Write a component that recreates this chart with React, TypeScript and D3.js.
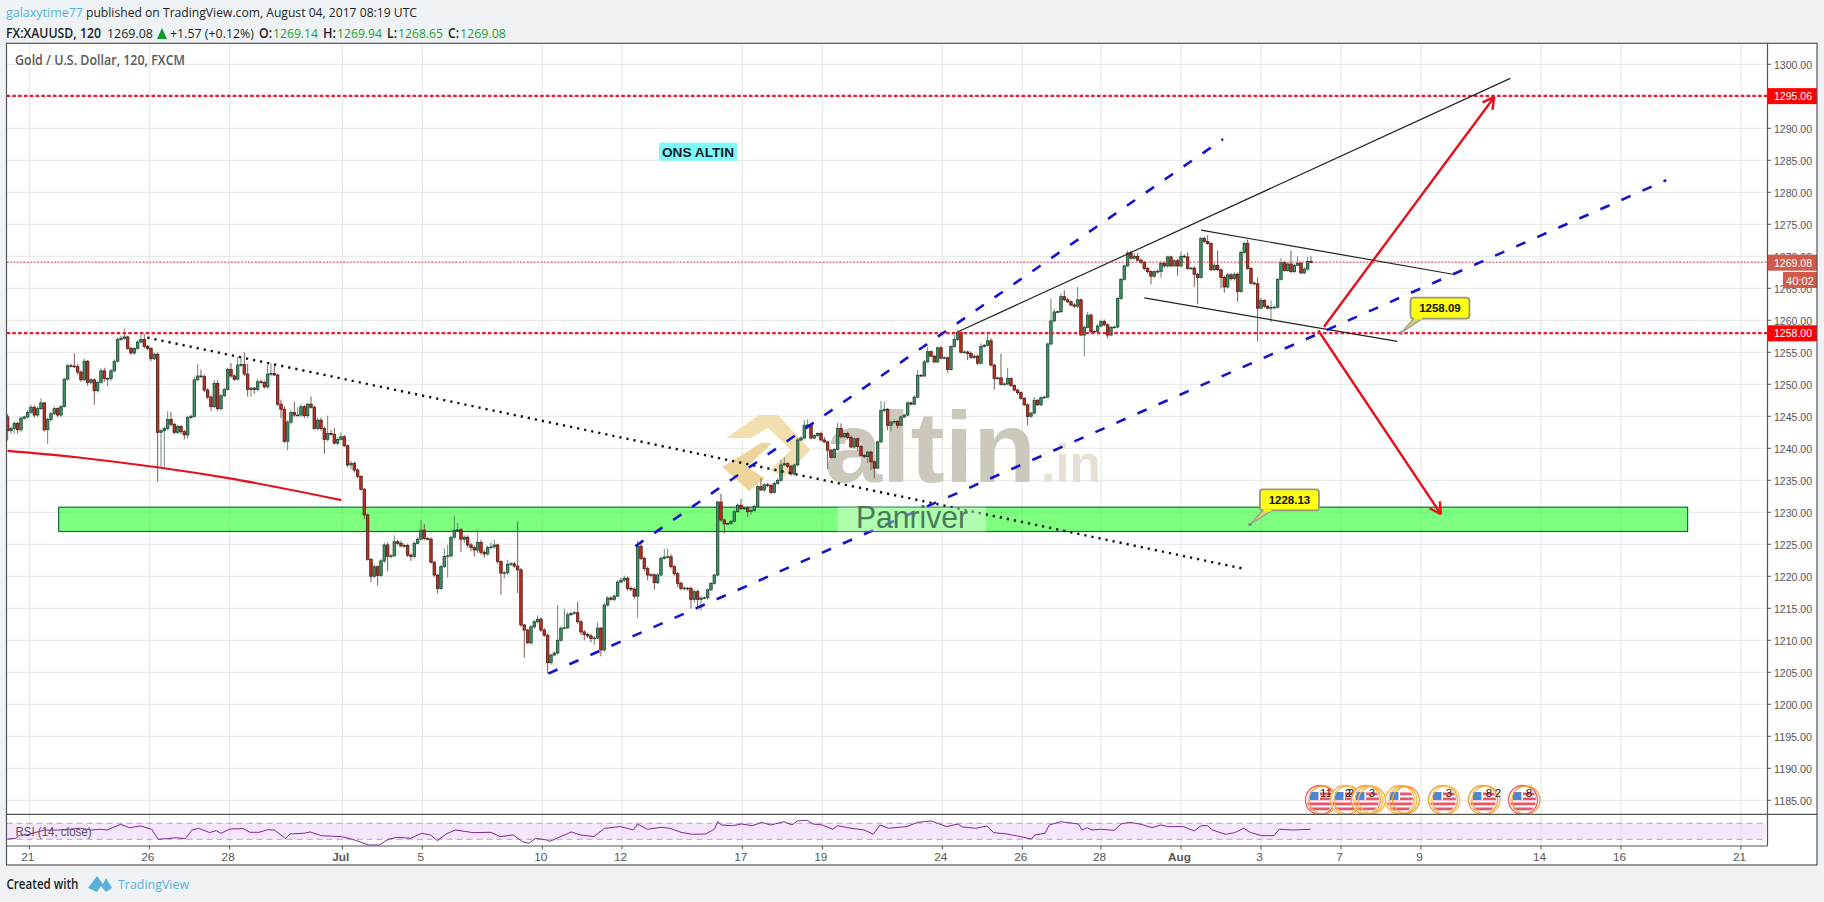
import * as d3 from "d3";

// 2h XAUUSD bars, one row per 10 bars (opens are the previous close)
const closes = [
  1242.75, 1243.1, 1243.9, 1242.9, 1244.7, 1244.9, 1245.6, 1246.4, 1245.2, 1246.2,
  1247.1, 1242.9, 1244.5, 1245.4, 1246.2, 1245.2, 1246.5, 1250.8, 1252.9, 1252.85,
  1252.75, 1251.9, 1250.7, 1253.6, 1250.3, 1250.7, 1249, 1250.3, 1252.1, 1250.9,
  1250.9, 1252.1, 1253.6, 1257, 1257.2, 1257.4, 1255.6, 1254.9, 1255.6, 1256.6,
  1257, 1255.9, 1255.6, 1254, 1254.7, 1242.5, 1242.75, 1243.1, 1244.5, 1243.75,
  1242.5, 1243.4, 1242.6, 1242.1, 1244.8, 1245, 1250.7, 1251.3, 1251.2, 1249.1,
  1248, 1246.5, 1250.15, 1246.2, 1248.2, 1249.2, 1252.3, 1251.3, 1250.8, 1253,
  1253.1, 1251.6, 1249.2, 1249.4, 1249.2, 1250.4, 1250.3, 1249.6, 1251.6, 1251.7,
  1251.45, 1246.9, 1246.1, 1241.1, 1244.1, 1245.6, 1245.2, 1245.2, 1246.5, 1245.1,
  1246.9, 1246.4, 1243.1, 1244.4, 1243.1, 1241.4, 1242.3, 1242.2, 1240.8, 1241.4,
  1241.8, 1240.4, 1237.4, 1237.65, 1236.6, 1235.6, 1233.6, 1229.6, 1222.65, 1220,
  1221.5, 1220.15, 1222.4, 1224.9, 1223.1, 1223.2, 1225.4, 1225.15, 1224.75, 1224.8,
  1223.3, 1223.1, 1225.15, 1225.8, 1227.2, 1225.9, 1225.8, 1222.2, 1220.2, 1218.1,
  1221.5, 1223.1, 1223.2, 1226.1, 1227.2, 1227.25, 1225.8, 1226.1, 1224.9, 1224.5,
  1224.1, 1225.3, 1223.75, 1223.5, 1224.5, 1224.6, 1224.9, 1222.3, 1220.5, 1220.55,
  1221.9, 1221.95, 1221.6, 1221, 1212.4, 1211.6, 1209.6, 1212.1, 1212.9, 1213.3,
  1211.6, 1210.8, 1206.5, 1207.7, 1208, 1210, 1211.9, 1211.95, 1214, 1214.2,
  1214.3, 1212.9, 1211.3, 1210.9, 1210.7, 1210.3, 1210.35, 1211.9, 1208.5, 1215.5,
  1216.6, 1216.4, 1216.9, 1219.1, 1219.4, 1219.7, 1218.1, 1218, 1216.9, 1224.7,
  1222.8, 1221.2, 1220.2, 1220.25, 1219, 1220.2, 1222.8, 1223, 1223.05, 1221.5,
  1220.4, 1218.9, 1218.1, 1218.15, 1218.1, 1216.4, 1217.6, 1216.4, 1216.6, 1216.65,
  1217.9, 1218.9, 1220.2, 1231.6, 1228.8, 1228.2, 1228.25, 1228.6, 1230.1, 1231.1,
  1230.6, 1230.65, 1230.1, 1230.3, 1230.9, 1234, 1233.5, 1234.3, 1234.2, 1233.1,
  1234.5, 1235, 1237.4, 1237.6, 1237.2, 1236, 1237.4, 1241.3, 1241.6, 1243.6,
  1243.65, 1241.6, 1242, 1242.3, 1241.3, 1241, 1239.7, 1238.6, 1239.8, 1243.1,
  1241.8, 1242.3, 1241.7, 1240.2, 1241.5, 1240.3, 1238.9, 1238.7, 1239.4, 1237.9,
  1236.9, 1241, 1245.9, 1246.1, 1243.6, 1244.1, 1244.2, 1243.6, 1244.9, 1245.2,
  1247.1, 1246.9, 1248, 1251.4, 1251.3, 1253.5, 1255.1, 1254.4, 1253.5, 1255.7,
  1254.1, 1254.15, 1252.3, 1255.9, 1257, 1258.1, 1255, 1255.05, 1254.8, 1254.2,
  1254.4, 1253.3, 1255.9, 1256.1, 1256.8, 1253, 1250.9, 1251, 1250, 1250.05,
  1250.9, 1249.8, 1249.1, 1248.7, 1247.8, 1246.8, 1245, 1245.5, 1247.5, 1246.8,
  1247.9, 1248, 1256.3, 1259.9, 1261.3, 1261.35, 1263.7, 1263.2, 1262.9, 1262.4,
  1262.2, 1263.2, 1257.7, 1258.9, 1260.8, 1258.2, 1258.25, 1259.1, 1259.8, 1259.3,
  1257.7, 1258.9, 1258.95, 1263.4, 1266.4, 1268.5, 1270.5, 1269.7, 1270, 1269.4,
  1269.06, 1268.1, 1267.6, 1266.9, 1267.6, 1267.65, 1268.9, 1268.5, 1269.9, 1268.5,
  1269.3, 1268.5, 1270, 1269.9, 1268.1, 1268.15, 1267.2, 1266.7, 1272.8, 1272.3,
  1272, 1267.9, 1268.6, 1267.9, 1266.7, 1265.2, 1267.1, 1266.5, 1267.2, 1264.5,
  1270.6, 1272, 1268.1, 1265.8, 1265.7, 1261.9, 1263.1, 1262.2, 1261.9, 1262,
  1262.05, 1266.4, 1269, 1267.8, 1268.8, 1267.6, 1268.6, 1268.9, 1267.4, 1268,
  1269.2, 1269.08,
];

// wick lengths above / below the body, in dollars
const upperWicks = [
  0.5, 0.3, 0.3, 0.2, 0.3, 0.2, 0.4, 0.4, 0.3, 0.4, 0.7, 0.1, 0.3, 0.3, 0.3, 0.2, 0.3, 0.2, 0.3, 0.3,
  2, 0.4, 0.3, 0.4, 0.2, 0.3, 0.2, 0.3, 0.4, 0.5, 0.2, 0.3, 0.3, 0.3, 0.4, 1.3, 0.2, 0.3, 0.2, 0.3,
  0.8, 0.8, 0.3, 0.2, 0.3, 0.3, 0.2, 0.3, 1.3, 1.2, 0.2, 0.3, 0.2, 0.3, 0.3, 0.3, 0.5, 1.9, 1, 0.3,
  0.3, 0.3, 0.5, 0.5, 0.3, 0.3, 0.3, 1, 0.3, 1.3, 1.2, 1.9, 1.6, 0.2, 0.2, 0.4, 0.3, 0.3, 1.4, 1.6,
  1.4, 0.2, 0.7, 0.5, 0.3, 0.4, 1.7, 1.2, 0.4, 0.3, 0.2, 1.2, 0.3, 0.4, 0.4, 0.3, 2.8, 0.6, 1, 0.3,
  0.7, 0.3, 0.2, 0.4, 0.3, 0.3, 0.2, 0.2, 0.2, 0.2, 0.3, 0.2, 0.3, 0.3, 0.4, 0.3, 1, 0.3, 0.4, 0.3,
  0.3, 0.3, 0.3, 0.3, 1.6, 1, 0.2, 0.3, 0.2, 0.2, 0.3, 1.3, 1.7, 0.3, 2.3, 1.1, 0.3, 0.3, 0.3, 0.3,
  0.3, 2, 0.4, 0.4, 0.3, 0.7, 0.8, 0.2, 0.2, 0.3, 0.7, 0.3, 0.3, 7, 0.3, 0.2, 0.2, 0.3, 0.3, 0.6,
  0.3, 0.3, 0.2, 0.2, 0.3, 5.5, 0.3, 3, 0.4, 0.3, 0.3, 1.7, 0.3, 0.3, 0.3, 0.3, 0.3, 0.9, 0.2, 0.4,
  0.3, 0.3, 0.3, 0.3, 0.4, 0.4, 0.3, 0.3, 0.3, 0.9, 0.9, 0.3, 0.3, 0.3, 0.2, 0.3, 0.3, 1.3, 1.3, 0.4,
  0.3, 0.3, 0.3, 0.3, 0.2, 0.3, 0.3, 0.3, 0.3, 0.2, 0.2, 0.2, 0.2, 0.2, 1.3, 0.2, 0.2, 0.2, 0.3, 0.3,
  1, 0.2, 0.3, 0.3, 0.3, 0.3, 1.3, 0.3, 0.3, 0.2, 0.3, 0.3, 0.8, 1, 0.2, 0.2, 0.2, 0.3, 0.3, 0.8,
  0.9, 0.2, 0.2, 0.2, 0.3, 0.5, 0.2, 0.2, 0.2, 0.9, 0.8, 0.2, 0.3, 0.3, 0.3, 0.2, 0.2, 0.2, 0.2, 0.2,
  0.2, 0.2, 1.5, 1.2, 0.2, 0.2, 0.3, 0.2, 0.2, 0.2, 0.2, 0.2, 0.3, 0.8, 0.2, 0.3, 0.8, 0.2, 0.2, 0.2,
  0.3, 0.2, 0.2, 0.2, 0.7, 0.4, 0.4, 0.3, 0.2, 0.3, 0.3, 0.2, 0.5, 0.2, 1.3, 0.4, 0.2, 0.2, 3.8, 0.3,
  1.6, 0.2, 0.2, 0.2, 0.2, 0.2, 0.2, 0.2, 0.5, 0.2, 0.2, 0.2, 0.2, 3.5, 0.5, 0.2, 0.5, 1, 0.3, 0.2,
  0.3, 2, 0.2, 0.3, 0.5, 0.3, 0.2, 0.3, 0.3, 0.3, 0.2, 0.2, 0.2, 0.2, 0.2, 0.2, 0.4, 0.4, 0.5, 0.5,
  0.2, 0.2, 0.2, 0.2, 0.2, 0.3, 0.3, 0.3, 0.2, 0.2, 0.3, 0.3, 0.7, 0.3, 0.7, 0.2, 0.3, 0.2, 0.2, 0.3,
  1, 0.2, 0.3, 2.3, 0.2, 0.3, 0.3, 0.3, 0.3, 0.3, 0.3, 0.3, 0.6, 0.2, 0.3, 1, 0.4, 0.2, 0.2, 1.1,
  0.2, 0.2, 0.7, 0.3, 0.3, 2.1, 0.3, 1.1, 0.3, 0.3, 0.7, 0.8,
];
const lowerWicks = [
  1.5, 0.5, 0.8, 0.6, 0.3, 0.2, 0.3, 0.2, 0.4, 0.3, 0.2, 0.3, 2.2, 0.3, 0.2, 0.3, 0.3, 0.1, 0.2, 0.2,
  0.2, 0.4, 0.3, 0.2, 0.5, 0.3, 2.2, 0.3, 0.2, 0.5, 1.2, 0.4, 0.2, 0.2, 0.2, 0.3, 0.2, 0.3, 0.3, 0.2,
  0.2, 0.3, 0.3, 0.4, 0.2, 7.7, 5.5, 5.7, 0.3, 0.3, 0.3, 0.3, 0.4, 0.7, 0.6, 0.2, 0.2, 0.2, 0.2, 0.3,
  0.3, 0.7, 0.2, 0.4, 0.3, 0.2, 0.2, 0.3, 0.3, 0.2, 0.3, 0.3, 1.1, 1.2, 0.7, 0.3, 0.2, 0.3, 0.3, 0.3,
  0.2, 0.3, 1.4, 0.3, 1.4, 0.4, 0.3, 0.3, 0.3, 0.4, 0.4, 0.2, 0.2, 0.3, 0.4, 2.3, 0.3, 0.2, 0.2, 0.3,
  0.2, 0.2, 0.4, 0.7, 0.4, 0.3, 0.2, 0.7, 0.2, 0.9, 0.3, 1.6, 0.3, 0.3, 2.3, 0.3, 0.2, 0.3, 0.2, 0.3,
  0.3, 0.7, 0.3, 0.2, 0.2, 0.3, 0.2, 0.2, 0.3, 0.8, 0.2, 0.2, 3.3, 0.3, 0.2, 0.3, 2, 0.6, 0.4, 0.6,
  1, 0.5, 0.4, 0.6, 0.3, 0.3, 0.3, 0.3, 3.4, 0.8, 0.3, 0.3, 0.3, 3.6, 0.3, 4.3, 0.1, 0.3, 0.3, 0.3,
  0.3, 0.3, 1.7, 0.3, 0.2, 0.2, 0.2, 0.2, 0.2, 0.2, 0.2, 0.3, 0.5, 0.9, 0.3, 0.6, 1, 0.2, 1, 0.3,
  0.2, 0.2, 0.3, 0.2, 0.2, 0.3, 0.4, 0.3, 0.4, 3.4, 0.3, 0.4, 0.8, 0.3, 1.1, 0.2, 0.2, 0.2, 0.2, 0.3,
  0.3, 0.6, 0.3, 0.3, 0.3, 1.4, 0.5, 1.4, 1.8, 0.2, 0.3, 0.2, 0.2, 0.2, 0.3, 1.5, 0.2, 0.2, 0.2, 0.2,
  0.2, 0.2, 0.8, 0.5, 0.2, 0.1, 0.2, 0.3, 0.3, 0.3, 0.2, 0.2, 0.2, 0.2, 0.3, 0.3, 0.3, 0.2, 0.2, 0.2,
  0.2, 0.2, 0.2, 0.2, 0.2, 0.2, 3, 0.2, 0.2, 0.2, 0.2, 0.2, 0.3, 0.2, 0.3, 0.7, 0.2, 0.2, 1, 1.3,
  1.6, 0.2, 0.2, 0.2, 0.8, 1, 0.3, 0.5, 0.2, 0.2, 0.2, 0.2, 0.2, 0.2, 0.2, 0.2, 0.2, 0.2, 0.2, 0.2,
  0.2, 0.2, 0.5, 0.2, 0.2, 0.2, 0.2, 0.2, 1, 0.2, 0.2, 0.3, 0.2, 0.2, 0.2, 0.2, 1.7, 0.2, 0.2, 0.2,
  0.2, 0.2, 0.2, 0.3, 0.2, 0.2, 1.4, 0.2, 0.2, 0.2, 0.2, 0.2, 0.2, 0.2, 0.2, 0.2, 0.2, 0.2, 0.2, 0.2,
  0.3, 0.3, 0.2, 3.3, 0.2, 0.2, 0.2, 0.2, 0.2, 0.2, 0.5, 0.2, 0.2, 0.2, 0.2, 0.2, 0.2, 0.2, 0.2, 0.2,
  0.3, 0.3, 0.3, 1.3, 0.3, 0.3, 1, 0.3, 0.3, 0.2, 0.2, 1.5, 0.2, 0.2, 0.2, 0.2, 2, 4.2, 0.2, 0.2,
  0.2, 0.2, 0.2, 0.2, 1.7, 0.9, 0.2, 0.3, 0.3, 1.6, 0.2, 0.2, 0.2, 0.2, 0.2, 5.2, 0.2, 0.3, 0.2, 2.2,
  0.2, 0.2, 0.2, 0.2, 0.2, 0.2, 0.2, 0.2, 0.2, 0.2, 0.2, 0.2,
];

const rsiBars = [
  0, 2.4, 3.7, 5.7, 11, 15, 21.8, 25.2, 27.8, 29.8, 33.9, 36.5, 39.9, 43.2, 45.2, 47.9, 50.6, 53.3, 55.3, 57.3,
  60.6, 62.6, 64, 66.7, 70.7, 72.7, 75.4, 78, 80, 83.4, 84.7, 88.8, 90.8, 94.1, 100.1, 103.5, 108.2, 111.5, 114.2, 116.9,
  120.9, 124.2, 126.9, 128.9, 131.6, 134.3, 139.6, 145, 147.7, 151.7, 154.4, 156.4, 158.4, 161.7, 162.7, 169.1, 171.8, 175.8, 179.1, 183.8,
  187.8, 188.9, 191.9, 196, 198.7, 202, 205.4, 209.4, 212.1, 213, 214.1, 217.5, 220.2, 223.5, 226.2, 228.9, 232.9, 235.3, 236.9, 239.8,
  241.6, 244.3, 247.6, 248.9, 253, 257, 259.7, 261.7, 264.3, 269.7, 273, 277, 281.7, 285.1, 286.4, 290.4, 293.8, 295.8, 299.8, 303.8,
  307.2, 308.1, 311.2, 312.5, 315.9, 321.2, 322.3, 323.9, 325.3, 327.9, 332, 334, 336.6, 340, 343.3, 346, 348, 352.7, 356, 358,
  360, 361.4, 365.4, 368.1, 370.8, 372.8, 376.1, 379.9, 381.5, 385.5, 390.9,
];
const rsiValues = [
  30.8, 32.5, 40.8, 40.8, 53, 53, 57.5, 53.3, 55, 53.3, 67.5, 59, 63.3, 55, 30, 31.7, 34, 31.7, 53.3, 57.5,
  46.7, 51.7, 45, 55.8, 56.7, 47.5, 47.5, 54, 53.3, 31.7, 43.3, 45, 48.3, 39, 36.7, 30, 15.8, 15.8, 30, 35,
  32.5, 45, 40.8, 26.7, 43.3, 53.3, 46.7, 47.5, 36.7, 40.8, 24.2, 20, 32.5, 28.3, 25, 48.3, 40.8, 36.7, 57.5, 61.7,
  53.3, 68.3, 55, 60, 57.5, 47.5, 42.5, 43.3, 55.8, 74, 65.8, 64, 68.3, 64, 72.5, 65.8, 74, 65.8, 75.8, 77.5,
  68.3, 65.8, 55, 64, 57.5, 53.3, 42.5, 65.8, 57.5, 61.7, 72.5, 75.8, 61.7, 68.3, 60.8, 57.5, 63.3, 46.7, 43.3, 36.7,
  30.8, 40.8, 45, 65.8, 74, 68.3, 53.3, 59, 53.3, 55, 52.5, 68.3, 72.5, 67.5, 59, 65.8, 61.7, 61.7, 50.8, 64,
  64, 53.3, 42.5, 46.7, 57.5, 47.5, 39.2, 39.2, 55, 53.3, 55,
];

const priceTicks = d3.range(1185, 1305, 5);
const tickBars = [6.5, 42.5, 66.6, 100.4, 124.4, 160.4, 184.3, 220.4, 244.4, 280.4, 304.4, 328, 352, 376, 400, 424, 460, 484, 520];
const tickLabels = ["21", "26", "28", "Jul", "5", "10", "12", "17", "19", "24", "26", "28", "Aug", "3", "7", "9", "14", "16", "21"];
const monthLabels = ["Jul", "Aug"];

const maBars = [0, 20.7, 32.1, 45.4, 66.6, 100.1];
const maPrices = [1239.6, 1238.6, 1237.9, 1237, 1235.3, 1231.9];

const supportLevels = [1295.06, 1258.0];
const lastPrice = 1269.08;
const zone = { bars: [15.3, 504], prices: [1230.8, 1227] };
// [bar, price] ends of the hand drawn lines
const dottedTrend = [[41.9, 1257.3], [371.6, 1221.1]];
const blueChannel = [[[162.2, 1204.8], [497.6, 1281.9]], [[188.3, 1224.7], [364.6, 1288.3]]];
const blackLines = [
  [[285.1, 1258.2], [450.8, 1297.8]],
  [[358, 1274.1], [433.6, 1267.2]],
  [[341, 1263.5], [416.9, 1256.7]],
];
const arrows = [
  [[394.9, 1259], [446, 1294.9]],
  [[393.2, 1258.4], [430, 1229.7]],
];
const callouts = [
  { bar: 418, price: 1258, text: "1258.09", dx: 9.5, dy: -35.5 },
  { bar: 372.7, price: 1228.1, text: "1228.13", dx: 10, dy: -35 },
];
const eventBars = [393.7, 401.2, 407.5, 417.7, 430.6, 442.6, 454.6];
const eventRings = [
  ["#ee5a70", "#f0a030"],
  ["#f6b54a", "#f6b54a"],
  ["#f0a030", "#f6b54a", "#f6b54a"],
  ["#f6b54a", "#f6b54a", "#f0a030"],
  ["#f0a030", "#f6c05a"],
  ["#f0a030", "#f6b54a"],
  ["#ee5a70", "#f0a030"],
];
const eventCounts = ["11", "2", "3", "", "3", "8", "8"];

const xBar = d3.scaleLinear().domain([0, 391]).range([7.65, 7.65 + 391 * 3.3333]);
const yPrice = d3.scaleLinear().domain([1185, 1300]).range([800.3, 64.3]);
const yRsi = d3.scaleLinear().domain([30, 70]).range([839.3, 823.3]);

const LEFT = 6.5;
const TOP = 43.3;
const RIGHT = 1767.5;
const MAIN_BOTTOM = 814.3;
const RSI_BOTTOM = 846;
const OUTER_RIGHT = 1817;
const OUTER_BOTTOM = 865;
const SANS = "'Liberation Sans', Arial, sans-serif";
const HEAD = "'Open Sans', sans-serif";

const linePath = d3.line<number[]>().x((d) => xBar(d[0])).y((d) => yPrice(d[1]));
const maPath = d3.line<number>()
  .x((d) => xBar(d))
  .y((_, i) => yPrice(maPrices[i]))
  .curve(d3.curveMonotoneX)(maBars);
const rsiPath = d3.line<number>()
  .x((d) => xBar(d))
  .y((_, i) => yRsi(rsiValues[i]))(rsiBars);

function HeadText(props: { x: number; y: number; w: number; fill?: string; weight?: number; children: string }) {
  return (
    <text x={props.x} y={props.y} textLength={props.w} lengthAdjust="spacingAndGlyphs" fontFamily={HEAD} fontSize={13.5}
      fontWeight={props.weight ?? 400} fill={props.fill ?? "#1b1f24"}>
      {props.children}
    </text>
  );
}

function Arrow({ seg }: { seg: number[][] }) {
  const x1 = xBar(seg[0][0]), y1 = yPrice(seg[0][1]), x2 = xBar(seg[1][0]), y2 = yPrice(seg[1][1]);
  const a = Math.atan2(y2 - y1, x2 - x1);
  const arm = (da: number) => `L${x2 - 13 * Math.cos(a + da)},${y2 - 13 * Math.sin(a + da)}`;
  return (
    <path d={`M${x1},${y1}L${x2},${y2}${arm(0.5)}M${x2},${y2}${arm(-0.5)}`} fill="none" stroke="#e3121c" strokeWidth={2.4} />
  );
}

function Callout({ c }: { c: (typeof callouts)[number] }) {
  const ax = xBar(c.bar), ay = yPrice(c.price);
  const bx = ax + c.dx, by = ay + c.dy, w = 59, h = 21;
  return (
    <g>
      <path d={`M${ax},${ay}L${bx + 3},${by + h}L${bx + 12},${by + h}Z`} fill="#d8cf6a" stroke="#999" strokeWidth={1.2} />
      <circle cx={ax} cy={ay} r={1.8} fill="#888" />
      <rect x={bx} y={by} width={w} height={h} rx={3} fill="#ffff14" stroke="#98977c" strokeWidth={1.8} />
      <path d={`M${bx + 3.5},${by + h}L${bx + 11.5},${by + h}`} stroke="#ffff14" strokeWidth={2} />
      <text x={bx + w / 2} y={by + 14.5} textAnchor="middle" fontFamily={SANS} fontSize={11.5} fontWeight={700} fill="#111">
        {c.text}
      </text>
    </g>
  );
}

function EventBadge({ i }: { i: number }) {
  const cx = xBar(eventBars[i]), cy = 800, r = 14;
  return (
    <g>
      <clipPath id={`flag${i}`}><circle cx={cx} cy={cy} r={r - 1} /></clipPath>
      <circle cx={cx} cy={cy} r={r} fill="#fff" fillOpacity={0.85} />
      <g clipPath={`url(#flag${i})`}>
        {[-7.5, -2.5, 2.5, 7.5].map((dy) => (
          <rect key={dy} x={cx - r} y={cy + dy} width={2 * r} height={2.8} fill="#e9576a" />
        ))}
        <rect x={cx - r} y={cy - r} width={r} height={r} fill="#fff" />
        <rect x={cx - 10} y={cy - 8} width={8.5} height={8} fill="#4d86d8" />
      </g>
      {eventRings[i].map((col, k) => (
        <circle key={k} cx={cx + k * 3} cy={cy} r={r + 0.5 - k * 0.5} fill="none" stroke={col} strokeWidth={1.3} />
      ))}
      {eventCounts[i] !== "" && (
        <text x={cx + 6} y={797} textAnchor="middle" fontFamily={SANS} fontSize={11.5} fill="#222">{eventCounts[i]}</text>
      )}
    </g>
  );
}

export default function App() {
  const opens = [1244.9, ...closes.slice(0, -1)];
  return (
    <svg width={1824} height={902} style={{ position: "absolute", left: 0, top: 0, display: "block" }}>
      <rect width={1824} height={902} fill="#f0f3f6" />

      {/* header */}
      <HeadText x={6} y={17} w={77} fill="#5ab0dc">galaxytime77</HeadText>
      <HeadText x={86} y={17} w={331}>published on TradingView.com, August 04, 2017 08:19 UTC</HeadText>
      <HeadText x={6} y={38} w={95} weight={600}>FX:XAUUSD, 120</HeadText>
      <HeadText x={107} y={38} w={46}>1269.08</HeadText>
      <path d="M157,39L162,28L167,39Z" fill="#0f9a2b" />
      <HeadText x={170} y={38} w={84}>+1.57 (+0.12%)</HeadText>
      <HeadText x={259} y={38} w={13} weight={600}>O:</HeadText>
      <HeadText x={273} y={38} w={45} fill="#1fa12f">1269.14</HeadText>
      <HeadText x={323} y={38} w={13} weight={600}>H:</HeadText>
      <HeadText x={337} y={38} w={45} fill="#1fa12f">1269.94</HeadText>
      <HeadText x={387} y={38} w={10} weight={600}>L:</HeadText>
      <HeadText x={398} y={38} w={45} fill="#1fa12f">1268.65</HeadText>
      <HeadText x={448} y={38} w={11} weight={600}>C:</HeadText>
      <HeadText x={460} y={38} w={46} fill="#1fa12f">1269.08</HeadText>

      {/* panes */}
      <rect x={LEFT} y={TOP} width={OUTER_RIGHT - LEFT} height={OUTER_BOTTOM - TOP} fill="#fff" />
      <clipPath id="main"><rect x={LEFT} y={TOP} width={RIGHT - LEFT} height={MAIN_BOTTOM - TOP} /></clipPath>
      <clipPath id="rsi"><rect x={LEFT} y={MAIN_BOTTOM} width={RIGHT - LEFT} height={RSI_BOTTOM - MAIN_BOTTOM} /></clipPath>

      {/* rsi pane */}
      <g clipPath="url(#rsi)">
        <rect x={LEFT} y={yRsi(70)} width={RIGHT - LEFT - 2} height={yRsi(30) - yRsi(70)} fill="#f5e6fd" />
        {tickBars.map((b) => (
          <line key={b} x1={xBar(b)} x2={xBar(b)} y1={MAIN_BOTTOM} y2={RSI_BOTTOM} stroke="#e2dde6" />
        ))}
        {[70, 30].map((v) => (
          <line key={v} x1={LEFT} x2={RIGHT - 2} y1={yRsi(v)} y2={yRsi(v)} stroke="#b3a6bd" strokeDasharray="6 4" />
        ))}
        <path d={rsiPath ?? ""} fill="none" stroke="#7d2a96" strokeWidth={1} />
      </g>
      <text x={15.5} y={836} textLength={76} lengthAdjust="spacingAndGlyphs" fontFamily={SANS} fontSize={12.5} fill="#555">RSI (14, close)</text>

      <g clipPath="url(#main)">
        {priceTicks.map((p) => (
          <line key={p} x1={LEFT} x2={RIGHT} y1={yPrice(p)} y2={yPrice(p)} stroke="#e5e5e5" />
        ))}
        {tickBars.map((b) => (
          <line key={b} x1={xBar(b)} x2={xBar(b)} y1={TOP} y2={MAIN_BOTTOM} stroke="#e5e5e5" />
        ))}

        {/* watermark */}
        <path d="M726,438L759,415L778,415L810.5,450L784,477L770,470L791,450L768,428L751,438Z" fill="#f2dfb0" />
        <path d="M761,443L722.5,467L749,491L765,478L747,467L772,443Z" fill="#ecd49a" />
        <text x={825} y={481.7} textLength={211} lengthAdjust="spacingAndGlyphs" fontFamily={SANS} fontSize={100} fontWeight={700} fill="#cdc8bc">altin</text>
        <text x={1041} y={481.7} textLength={60} lengthAdjust="spacingAndGlyphs" fontFamily={SANS} fontSize={53} fontWeight={700} fill="#e6e1d4">.in</text>

        {/* green zone */}
        <rect x={xBar(zone.bars[0])} y={yPrice(zone.prices[0])} width={xBar(zone.bars[1]) - xBar(zone.bars[0])}
          height={yPrice(zone.prices[1]) - yPrice(zone.prices[0])} fill="#00ff00" fillOpacity={0.5} stroke="#126b45" strokeWidth={1.2} />

        {/* candles */}
        {closes.map((c, i) => {
          const o = opens[i];
          const up = c >= o;
          const top = Math.max(o, c), bot = Math.min(o, c);
          const x = xBar(i);
          return (
            <g key={i}>
              <line x1={x} x2={x} y1={yPrice(top + upperWicks[i])} y2={yPrice(bot - lowerWicks[i])} stroke={up ? "#5f7a6a" : "#6b4a45"} strokeWidth={0.9} />
              <rect x={x - 1.25} y={yPrice(top)} width={2.5} height={Math.max(yPrice(bot) - yPrice(top), 0.7)}
                fill={up ? "#468f66" : "#c2301f"} stroke={up ? "#1a4a32" : "#4f1913"} strokeWidth={0.8} />
            </g>
          );
        })}

        {/* levels */}
        <line x1={LEFT} x2={RIGHT} y1={yPrice(lastPrice)} y2={yPrice(lastPrice)} stroke="#c4283a" strokeDasharray="2 1.4" strokeWidth={0.9} />
        {supportLevels.map((p) => (
          <line key={p} x1={LEFT} x2={RIGHT} y1={yPrice(p)} y2={yPrice(p)} stroke="#ef1a2d" strokeWidth={2.2} strokeDasharray="3.6 2.2" />
        ))}
        <path d={maPath ?? ""} fill="none" stroke="#e3121c" strokeWidth={2.2} />

        {/* drawings */}
        <path d={linePath(dottedTrend) ?? ""} fill="none" stroke="#111" strokeWidth={2.4} strokeDasharray="2.2 5" />
        {blueChannel.map((seg, i) => (
          <path key={i} d={linePath(seg) ?? ""} fill="none" stroke="#1414c8" strokeWidth={2.6} strokeDasharray="10 13" />
        ))}
        {blackLines.map((seg, i) => (
          <path key={i} d={linePath(seg) ?? ""} fill="none" stroke="#222" strokeWidth={1.2} />
        ))}
        {arrows.map((seg, i) => <Arrow key={i} seg={seg} />)}

        {/* Panriver label sits over the channel */}
        <rect x={xBar(249.1)} y={yPrice(zone.prices[0])} width={148} height={yPrice(zone.prices[1]) - yPrice(zone.prices[0])} fill="#fff" fillOpacity={0.38} />
        <text x={856} y={528} textLength={112} lengthAdjust="spacingAndGlyphs" fontFamily={SANS} fontSize={32} fill="#4a7a58">Panriver</text>

        <rect x={659} y={142.7} width={78} height={18} fill="#7ffbfb" />
        <text x={662} y={156.5} textLength={72} lengthAdjust="spacingAndGlyphs" fontFamily={SANS} fontSize={13.5} fontWeight={700} fill="#10202a">ONS ALTIN</text>

        {callouts.map((c) => <Callout key={c.text} c={c} />)}
        {eventBars.map((_, i) => <EventBadge key={i} i={i} />)}
        <text x={1348} y={797} textAnchor="middle" fontFamily={SANS} fontSize={11.5} fill="#222">2</text>
        <text x={1498} y={797} textAnchor="middle" fontFamily={SANS} fontSize={11.5} fill="#222">2</text>
      </g>
      <text x={15} y={65} textLength={170} lengthAdjust="spacingAndGlyphs" fontFamily={HEAD} fontSize={13.5} fontWeight={600} fill="#5a5a5a">Gold / U.S. Dollar, 120, FXCM</text>

      {/* price axis */}
      {priceTicks.map((p) => (
        <g key={p}>
          <line x1={RIGHT} x2={RIGHT + 3.5} y1={yPrice(p)} y2={yPrice(p)} stroke="#555" />
          <text x={1774} y={yPrice(p) + 4.3} textLength={38} lengthAdjust="spacingAndGlyphs" fontFamily={SANS} fontSize={11.8} fill="#555">{p.toFixed(2)}</text>
        </g>
      ))}
      {supportLevels.map((p) => (
        <g key={p}>
          <rect x={RIGHT} y={yPrice(p) - 7.8} width={OUTER_RIGHT - RIGHT} height={16} fill="#ff0000" />
          <text x={1774} y={yPrice(p) + 4.3} textLength={38} lengthAdjust="spacingAndGlyphs" fontFamily={SANS} fontSize={11.8} fill="#fff">{p.toFixed(2)}</text>
        </g>
      ))}
      <rect x={RIGHT} y={yPrice(lastPrice) - 7.5} width={OUTER_RIGHT - RIGHT} height={16} fill="#d05a4a" />
      <text x={1774} y={yPrice(lastPrice) + 4.8} textLength={38} lengthAdjust="spacingAndGlyphs" fontFamily={SANS} fontSize={11.8} fill="#fff">{lastPrice.toFixed(2)}</text>
      <rect x={1783} y={272} width={OUTER_RIGHT - 1783} height={16} fill="#d05a4a" />
      <text x={1786} y={284.5} textLength={28} lengthAdjust="spacingAndGlyphs" fontFamily={SANS} fontSize={11.8} fill="#fff">40:02</text>

      {/* time axis */}
      {tickBars.map((b, i) => (
        <g key={b}>
          <line x1={xBar(b)} x2={xBar(b)} y1={RSI_BOTTOM} y2={RSI_BOTTOM + 3.5} stroke="#555" />
          <text x={xBar(b) - 1.5} y={861} textAnchor="middle" fontFamily={SANS} fontSize={11.8}
            fontWeight={monthLabels.includes(tickLabels[i]) ? 700 : 400} fill="#555">
            {tickLabels[i]}
          </text>
        </g>
      ))}

      {/* frame */}
      <rect x={LEFT} y={TOP} width={OUTER_RIGHT - LEFT} height={OUTER_BOTTOM - TOP} fill="none" stroke="#555" strokeWidth={1.2} />
      <line x1={RIGHT} x2={RIGHT} y1={TOP} y2={RSI_BOTTOM} stroke="#555" strokeWidth={1.2} />
      <line x1={LEFT} x2={OUTER_RIGHT} y1={MAIN_BOTTOM} y2={MAIN_BOTTOM} stroke="#555" strokeWidth={1.2} />
      <line x1={LEFT} x2={RIGHT} y1={RSI_BOTTOM} y2={RSI_BOTTOM} stroke="#555" strokeWidth={1.2} />

      {/* footer */}
      <HeadText x={6.5} y={889} w={72} weight={600}>Created with</HeadText>
      <path d="M88,888L97,876L103,884L106,878L112,888L106,892L101,886L97,892Z" fill="#5ab0dc" />
      <HeadText x={118} y={889} w={71} fill="#5ab0dc">TradingView</HeadText>
    </svg>
  );
}
